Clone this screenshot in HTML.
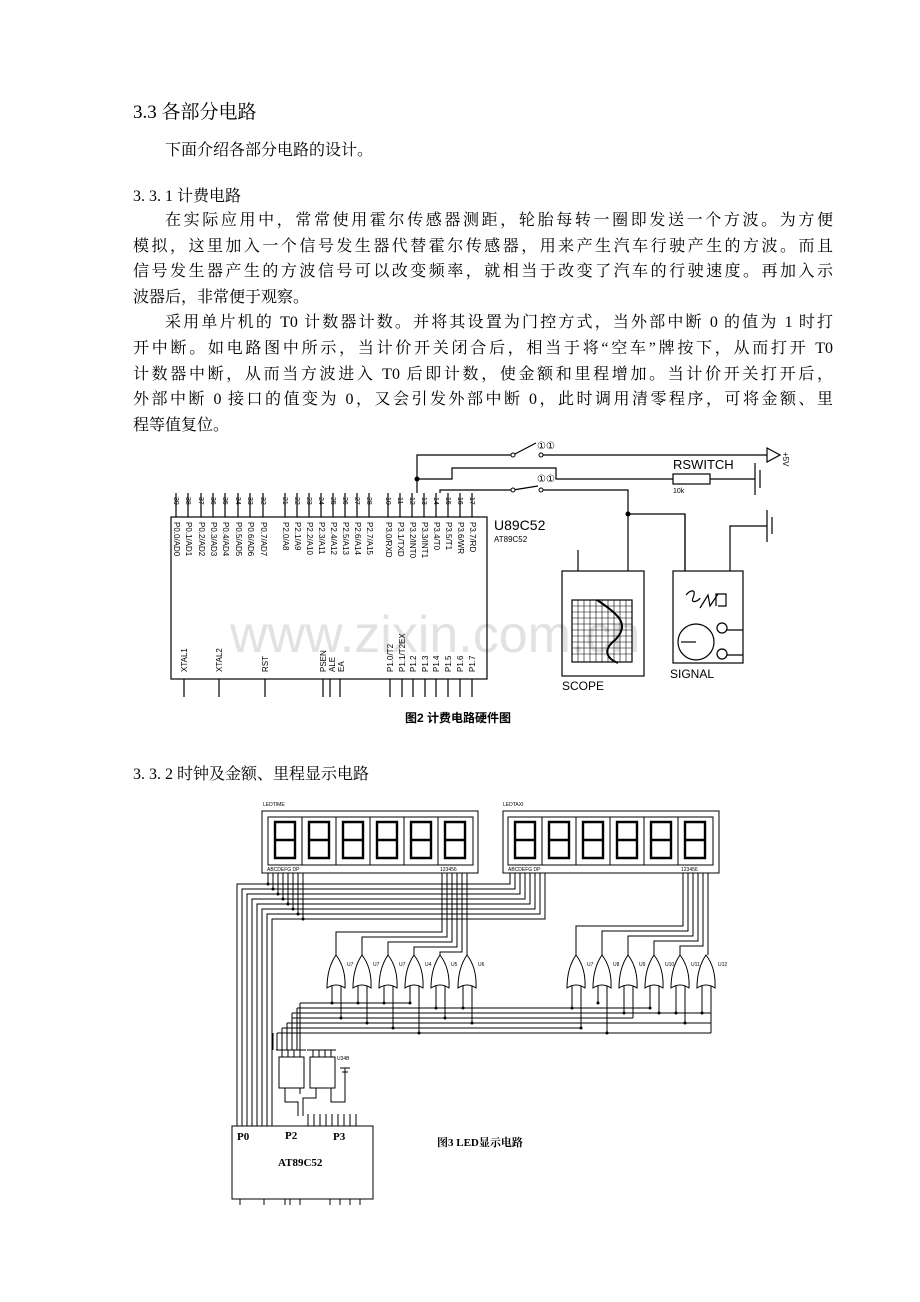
<!DOCTYPE html>
<html><head><meta charset="utf-8">
<style>
html,body{margin:0;padding:0;background:#fff}
body{width:920px;height:1302px;position:relative;overflow:hidden;font-family:"Liberation Serif","Noto Serif CJK SC",serif;color:#000}
.t{position:absolute;font-size:16px;line-height:20px;white-space:nowrap}
.j{text-align:justify;text-align-last:justify;white-space:normal}
svg{position:absolute;left:0;top:0}
</style></head><body>
<div class="t" style="left:133px;top:101px;font-size:19px;line-height:24px">3.3 各部分电路</div>
<div class="t" style="left:165px;top:141px">下面介绍各部分电路的设计。</div>
<div class="t" style="left:133px;top:187px">3. 3. 1 计费电路</div>
<div class="t j" style="left:165px;top:211px;width:668px">在实际应用中，常常使用霍尔传感器测距，轮胎每转一圈即发送一个方波。为方便</div>
<div class="t j" style="left:133px;top:237px;width:700px">模拟，这里加入一个信号发生器代替霍尔传感器，用来产生汽车行驶产生的方波。而且</div>
<div class="t j" style="left:133px;top:262px;width:700px">信号发生器产生的方波信号可以改变频率，就相当于改变了汽车的行驶速度。再加入示</div>
<div class="t" style="left:133px;top:288px">波器后，非常便于观察。</div>
<div class="t j" style="left:165px;top:313px;width:668px">采用单片机的 T0 计数器计数。并将其设置为门控方式，当外部中断 0 的值为 1 时打</div>
<div class="t j" style="left:133px;top:339px;width:700px">开中断。如电路图中所示，当计价开关闭合后，相当于将“空车”牌按下，从而打开 T0</div>
<div class="t j" style="left:133px;top:365px;width:700px">计数器中断，从而当方波进入 T0 后即计数，使金额和里程增加。当计价开关打开后，</div>
<div class="t j" style="left:133px;top:390px;width:700px">外部中断 0 接口的值变为 0，又会引发外部中断 0，此时调用清零程序，可将金额、里</div>
<div class="t" style="left:133px;top:416px">程等值复位。</div>
<div class="t" style="left:133px;top:765px">3. 3. 2 时钟及金额、里程显示电路</div>

<svg width="920" height="1302" viewBox="0 0 920 1302" font-family="Liberation Sans, sans-serif">
<text x="230" y="652" font-size="52" fill="#e2e2e2">www.zixin.com.cn</text>
<g stroke="#000" stroke-width="1.2" fill="none">
<rect x="171" y="517" width="316" height="162"/>
<path d="M176 493V517M188 493V517M201 493V517M213 493V517M225 493V517M238 493V517M250 493V517M263 493V517
M285 493V517M297 493V517M309 493V517M321 493V517M333 493V517M345 493V517M357 493V517M369 493V517
M388 493V517M400 493V517M412 493V517M424 493V517M436 493V517M448 493V517M460 493V517M472 493V517"/>
<path d="M184 679V697M219 679V697M265 679V697M323 679V697M330 679V697M340 679V697
M390 679V697M402 679V697M413 679V697M425 679V697M436 679V697M448 679V697M460 679V697M472 679V697"/>
<path d="M417 493V455H513M541 455H767"/>
<path d="M513 455L536 443"/>
<path d="M417 479H452V468H556V479H673M710 479H755"/>
<rect x="673" y="474" width="37" height="10"/>
<path d="M755 463V495M760 470V488"/>
<path d="M767 448L780 455L767 462Z"/>
<path d="M440 493V490H513M541 490H628V571M628 514H685V571"/>
<path d="M513 490L538 486"/>
<rect x="562" y="571" width="82" height="105"/>
<path d="M578 571V550"/>
<rect x="572" y="600" width="60" height="62"/>
<path d="M572 606H632M572 612H632M572 618H632M572 624H632M572 630H632M572 636H632M572 642H632M572 648H632M572 654H632M578 600V662M584 600V662M590 600V662M596 600V662M602 600V662M608 600V662M614 600V662M620 600V662M626 600V662" stroke-width="0.6"/>
<path d="M597 600C620 615 630 625 615 640C600 652 610 660 618 663" stroke-width="2"/>
<rect x="673" y="571" width="70" height="92"/>
<path d="M685 571V514M730 571V526H767M767 510V542M772 517V534"/>
<path d="M686 595C690 590 697 588 693 598 690 605 700 600 700 598M700 608L708 595 710 606 718 594M716 606V594H726V606H718"/>
<circle cx="696" cy="642" r="18"/>
<path d="M681 642H696"/>
<circle cx="722" cy="628" r="5"/><circle cx="722" cy="654" r="5"/>
<path d="M727 630H743M727 655H743"/>
</g>
<g fill="#000">
<circle cx="417" cy="479" r="2.5"/><circle cx="628" cy="514" r="2.5"/>
<circle cx="513" cy="455" r="2" fill="#fff" stroke="#000"/><circle cx="541" cy="455" r="2" fill="#fff" stroke="#000"/>
<circle cx="513" cy="490" r="2" fill="#fff" stroke="#000"/><circle cx="541" cy="490" r="2" fill="#fff" stroke="#000"/>
<text x="537" y="449" font-size="10">①①</text>
<text x="537" y="482" font-size="10">①①</text>
<text x="673" y="469" font-size="13">RSWITCH</text>
<text x="673" y="493" font-size="7">10k</text>
<text x="494" y="530" font-size="14">U89C52</text>
<text x="494" y="542" font-size="8">AT89C52</text>
<text x="562" y="690" font-size="12">SCOPE</text>
<text x="670" y="678" font-size="12">SIGNAL</text>
<text font-size="8" transform="translate(783,452) rotate(90)">+5V</text>
<g font-size="8">
<text transform="translate(174,522) rotate(90)">P0.0/AD0</text>
<text transform="translate(186,522) rotate(90)">P0.1/AD1</text>
<text transform="translate(199,522) rotate(90)">P0.2/AD2</text>
<text transform="translate(211,522) rotate(90)">P0.3/AD3</text>
<text transform="translate(223,522) rotate(90)">P0.4/AD4</text>
<text transform="translate(236,522) rotate(90)">P0.5/AD5</text>
<text transform="translate(248,522) rotate(90)">P0.6/AD6</text>
<text transform="translate(261,522) rotate(90)">P0.7/AD7</text>
<text transform="translate(283,522) rotate(90)">P2.0/A8</text>
<text transform="translate(295,522) rotate(90)">P2.1/A9</text>
<text transform="translate(307,522) rotate(90)">P2.2/A10</text>
<text transform="translate(319,522) rotate(90)">P2.3/A11</text>
<text transform="translate(331,522) rotate(90)">P2.4/A12</text>
<text transform="translate(343,522) rotate(90)">P2.5/A13</text>
<text transform="translate(355,522) rotate(90)">P2.6/A14</text>
<text transform="translate(367,522) rotate(90)">P2.7/A15</text>
<text transform="translate(386,522) rotate(90)">P3.0/RXD</text>
<text transform="translate(398,522) rotate(90)">P3.1/TXD</text>
<text transform="translate(410,522) rotate(90)">P3.2/INT0</text>
<text transform="translate(422,522) rotate(90)">P3.3/INT1</text>
<text transform="translate(434,522) rotate(90)">P3.4/T0</text>
<text transform="translate(446,522) rotate(90)">P3.5/T1</text>
<text transform="translate(458,522) rotate(90)">P3.6/WR</text>
<text transform="translate(470,522) rotate(90)">P3.7/RD</text>
<text transform="translate(187,672) rotate(-90)">XTAL1</text>
<text transform="translate(222,672) rotate(-90)">XTAL2</text>
<text transform="translate(268,672) rotate(-90)">RST</text>
<text transform="translate(326,672) rotate(-90)">PSEN</text>
<text transform="translate(335,672) rotate(-90)">ALE</text>
<text transform="translate(344,672) rotate(-90)">EA</text>
<text transform="translate(393,672) rotate(-90)">P1.0/T2</text>
<text transform="translate(405,672) rotate(-90)">P1.1/T2EX</text>
<text transform="translate(416,672) rotate(-90)">P1.2</text>
<text transform="translate(428,672) rotate(-90)">P1.3</text>
<text transform="translate(439,672) rotate(-90)">P1.4</text>
<text transform="translate(451,672) rotate(-90)">P1.5</text>
<text transform="translate(463,672) rotate(-90)">P1.6</text>
<text transform="translate(475,672) rotate(-90)">P1.7</text>
</g>
<g font-size="7">
<text transform="translate(174,497) rotate(90)">39</text><text transform="translate(186,497) rotate(90)">38</text><text transform="translate(199,497) rotate(90)">37</text><text transform="translate(211,497) rotate(90)">36</text><text transform="translate(223,497) rotate(90)">35</text><text transform="translate(236,497) rotate(90)">34</text><text transform="translate(248,497) rotate(90)">33</text><text transform="translate(261,497) rotate(90)">32</text>
<text transform="translate(283,497) rotate(90)">21</text><text transform="translate(295,497) rotate(90)">22</text><text transform="translate(307,497) rotate(90)">23</text><text transform="translate(319,497) rotate(90)">24</text><text transform="translate(331,497) rotate(90)">25</text><text transform="translate(343,497) rotate(90)">26</text><text transform="translate(355,497) rotate(90)">27</text><text transform="translate(367,497) rotate(90)">28</text>
<text transform="translate(386,497) rotate(90)">10</text><text transform="translate(398,497) rotate(90)">11</text><text transform="translate(410,497) rotate(90)">12</text><text transform="translate(422,497) rotate(90)">13</text><text transform="translate(434,497) rotate(90)">14</text><text transform="translate(446,497) rotate(90)">15</text><text transform="translate(458,497) rotate(90)">16</text><text transform="translate(470,497) rotate(90)">17</text>
</g>
<text x="405" y="722" font-size="12" font-weight="bold" font-family="Liberation Sans, Noto Sans CJK SC, sans-serif">图2 计费电路硬件图</text>
</g>

<g stroke="#000" stroke-width="1" fill="none">
<rect x="262" y="811" width="216" height="62"/>
<rect x="268" y="817" width="205" height="48"/>
<path d="M302 817V865M336 817V865M370 817V865M404 817V865M438 817V865"/>
<rect x="503" y="811" width="216" height="62"/>
<rect x="508" y="817" width="205" height="48"/>
<path d="M542 817V865M576 817V865M610 817V865M644 817V865M678 817V865"/>
<g stroke-width="2.4">
<path d="M275 822h20v36h-20zM275 840h20M309 822h20v36h-20zM309 840h20M343 822h20v36h-20zM343 840h20M377 822h20v36h-20zM377 840h20M411 822h20v36h-20zM411 840h20M445 822h20v36h-20zM445 840h20"/>
<path d="M515 822h20v36h-20zM515 840h20M549 822h20v36h-20zM549 840h20M583 822h20v36h-20zM583 840h20M617 822h20v36h-20zM617 840h20M651 822h20v36h-20zM651 840h20M685 822h20v36h-20zM685 840h20"/>
</g>
<path d="M268 873V884H237V1126M273 873V889H242V1126M278 873V894H247V1126M283 873V899H252V1126M288 873V904H257V1126M293 873V909H262V1126M298 873V914H267V1126M303 873V919H272V1126"/>
<path d="M268 884H510V873M273 889H515V873M278 894H520V873M283 899H525V873M288 904H530V873M293 909H535V873M298 914H540V873M303 919H545V873"/>
<path d="M442 873V932H336V955M447 873V937H362V955M452 873V942H388V955M457 873V947H414V955M462 873V952H440V955M467 873V955"/>
<path d="M683 873V926H576V955M688 873V931H602V955M693 873V936H628V955M698 873V941H654V955M703 873V946H680V955M708 873V955"/>
<g>
<path d="M327 988Q336 982 345 988Q346 968 336 955Q327 968 327 988Z"/>
<path d="M353 988Q362 982 371 988Q372 968 362 955Q353 968 353 988Z"/>
<path d="M379 988Q388 982 397 988Q398 968 388 955Q379 968 379 988Z"/>
<path d="M405 988Q414 982 423 988Q424 968 414 955Q405 968 405 988Z"/>
<path d="M431 988Q440 982 449 988Q450 968 440 955Q431 968 431 988Z"/>
<path d="M458 988Q467 982 476 988Q477 968 467 955Q458 968 458 988Z"/>
<path d="M567 988Q576 982 585 988Q586 968 576 955Q567 968 567 988Z"/>
<path d="M593 988Q602 982 611 988Q612 968 602 955Q593 968 593 988Z"/>
<path d="M619 988Q628 982 637 988Q638 968 628 955Q619 968 619 988Z"/>
<path d="M645 988Q654 982 663 988Q664 968 654 955Q645 968 645 988Z"/>
<path d="M671 988Q680 982 689 988Q690 968 680 955Q671 968 671 988Z"/>
<path d="M697 988Q706 982 715 988Q716 968 706 955Q697 968 697 988Z"/>
</g>
<path d="M332 986V1003M341 986V1018M358 986V1003M367 986V1023M384 986V1003M393 986V1028M410 986V1003M419 986V1033M436 986V1008M445 986V1018M463 986V1008M472 986V1023"/>
<path d="M572 986V1008M581 986V1028M598 986V1003M607 986V1033M624 986V1013M633 986V1018M650 986V1008M659 986V1013M676 986V1013M685 986V1023M702 986V1013M711 986V1033"/>
<path d="M332 1003H410M300 1003H332M297 1008H650M292 1013H711M292 1018H633M287 1023H711M282 1028H581M277 1033H711M273 1033V1050"/>
<path d="M300 1003V1050M297 1008V1050M292 1013V1050M287 1023V1050M282 1028V1050M277 1033V1050"/>
<rect x="279" y="1057" width="25" height="31"/>
<rect x="310" y="1057" width="25" height="31"/>
<path d="M276 1050H306M307 1050H336M282 1050V1057M288 1050V1057M294 1050V1057M300 1050V1057M313 1050V1057M319 1050V1057M325 1050V1057M331 1050V1057"/>
<path d="M285 1088V1102H298V1116M300 1088V1094M316 1088V1098H303V1116M331 1088V1102H345V1088M345 1088V1068M340 1068H350M342 1072H348"/>
<path d="M308 1114V1126M314 1114V1126M320 1114V1126M326 1114V1126M332 1114V1126M338 1114V1126M344 1114V1126M350 1114V1126M356 1114V1126"/>
<rect x="232" y="1126" width="141" height="73"/>
<path d="M240 1199V1205M264 1199V1205M285 1199V1205M290 1199V1205M300 1199V1205M330 1199V1205M340 1199V1205M350 1199V1205M360 1199V1205"/>
</g>
<g fill="#000">
<circle cx="268" cy="884" r="1.5"/><circle cx="273" cy="889" r="1.5"/><circle cx="278" cy="894" r="1.5"/><circle cx="283" cy="899" r="1.5"/><circle cx="288" cy="904" r="1.5"/><circle cx="293" cy="909" r="1.5"/><circle cx="298" cy="914" r="1.5"/><circle cx="303" cy="919" r="1.5"/>
<circle cx="332" cy="1003" r="1.5"/><circle cx="358" cy="1003" r="1.5"/><circle cx="384" cy="1003" r="1.5"/><circle cx="410" cy="1003" r="1.5"/><circle cx="598" cy="1003" r="1.5"/><circle cx="436" cy="1008" r="1.5"/><circle cx="463" cy="1008" r="1.5"/><circle cx="572" cy="1008" r="1.5"/><circle cx="650" cy="1008" r="1.5"/><circle cx="624" cy="1013" r="1.5"/><circle cx="659" cy="1013" r="1.5"/><circle cx="676" cy="1013" r="1.5"/><circle cx="702" cy="1013" r="1.5"/><circle cx="341" cy="1018" r="1.5"/><circle cx="445" cy="1018" r="1.5"/><circle cx="367" cy="1023" r="1.5"/><circle cx="472" cy="1023" r="1.5"/><circle cx="685" cy="1023" r="1.5"/><circle cx="393" cy="1028" r="1.5"/><circle cx="581" cy="1028" r="1.5"/><circle cx="419" cy="1033" r="1.5"/><circle cx="607" cy="1033" r="1.5"/>
<g font-size="5">
<text x="263" y="806">LEDTIME</text><text x="503" y="806">LEDTAXI</text>
<text x="267" y="871">ABCDEFG DP</text><text x="440" y="871">123456</text>
<text x="508" y="871">ABCDEFG DP</text><text x="681" y="871">123456</text>
<text x="347" y="966">U7</text><text x="373" y="966">U7</text><text x="399" y="966">U7</text><text x="425" y="966">U4</text><text x="451" y="966">U5</text><text x="478" y="966">U6</text>
<text x="587" y="966">U7</text><text x="613" y="966">U8</text><text x="639" y="966">U9</text><text x="665" y="966">U10</text><text x="691" y="966">U11</text><text x="718" y="966">U12</text>
<text x="337" y="1060">U34B</text>
</g>
<g font-family="Liberation Serif, serif" font-weight="bold" font-size="11">
<text x="237" y="1140">P0</text><text x="285" y="1139">P2</text><text x="333" y="1140">P3</text>
<text x="278" y="1166">AT89C52</text>
</g>
<text x="437" y="1146" font-size="11" font-weight="bold" font-family="Liberation Serif, Noto Serif CJK SC, serif">图3 LED显示电路</text>
</g>
</svg>
</body></html>
